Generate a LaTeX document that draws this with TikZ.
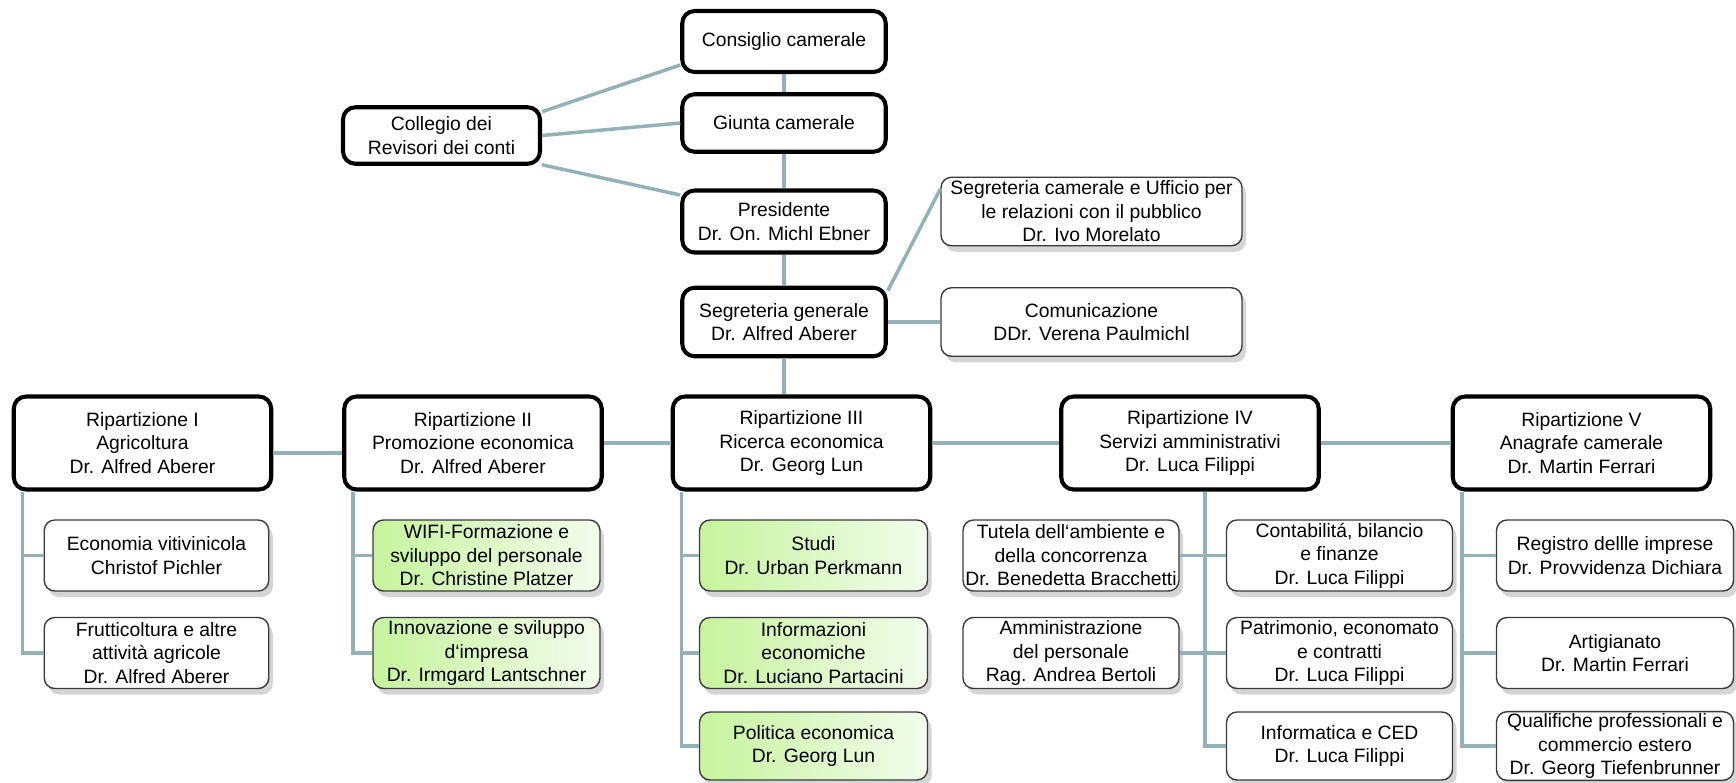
\documentclass[tikz,border=0pt]{standalone}
\usepackage{fontspec}
\setmainfont{Liberation Sans}
\usepackage{tikz}
\usetikzlibrary{positioning}
\usetikzlibrary{calc}
\usetikzlibrary{shadows}
\definecolor{linkcolor}{HTML}{93B2B7}
\definecolor{officeborder}{HTML}{3A3A3A}
\definecolor{greenleft}{RGB}{198,244,156}
\definecolor{greenright}{RGB}{242,252,236}
\colorlet{shadowcolor}{black!55}
\tikzstyle{headbox}=[black, align=center, draw=black, line width=2.3pt, rounded corners=7, fill=white, inner sep=1pt, font=\fontsize{11}{13.4}\selectfont]
\tikzstyle{officebox}=[black, align=center, draw=officeborder, line width=0.8pt, rounded corners=6, fill=white, inner sep=1pt, minimum height=14.2mm, font=\fontsize{11}{13.4}\selectfont, drop shadow={shadow xshift=0.8mm, shadow yshift=-1.2mm, opacity=0.3, fill=shadowcolor}]
\tikzstyle{greenbox}=[officebox, left color=greenleft, right color=greenright]
\tikzstyle{link}=[draw=linkcolor, line width=2pt]

\begin{document}
\begin{tikzpicture}
    \useasboundingbox (0, 0) rectangle (34.72, -15.64);

    % top of the chamber
    \node[headbox, minimum width=40.7mm, minimum height=12.2mm] at (15.68, -0.83) (consiglio) {Consiglio camerale};

    \node[headbox, minimum width=40.7mm, minimum height=11.5mm] at ($(consiglio) + (0, -1.63)$) (giunta) {Giunta camerale};

    \node[headbox, minimum width=40.7mm, minimum height=12.4mm] at ($(giunta) + (0, -1.97)$) (presidente) {Presidente\\Dr. On. Michl Ebner};

    \node[headbox, minimum width=40.7mm, minimum height=13.7mm] at ($(presidente) + (0, -2.01)$) (segGenerale) {Segreteria generale\\Dr. Alfred Aberer};

    \node[headbox, minimum width=39.4mm, minimum height=11.3mm] at ($(giunta) + (-6.85, -0.25)$) (collegio) {Collegio dei\\Revisori dei conti};

    \node[officebox, minimum width=60.2mm, minimum height=13.7mm] at ($(segGenerale) + (6.15, 2.21)$) (segCamerale) {Segreteria camerale e Ufficio per\\le relazioni con il pubblico\\Dr. Ivo Morelato};

    \node[officebox, minimum width=60.2mm, minimum height=13.7mm] at ($(segGenerale) + (6.15, 0)$) (comunicazione) {Comunicazione\\DDr. Verena Paulmichl};

    % Ripartizioni
    \node[headbox, minimum width=51.5mm, minimum height=18.6mm] at ($(segGenerale) + (0.35, -2.42)$) (ripIII) {Ripartizione III\\Ricerca economica\\Dr. Georg Lun};

    \node[headbox, minimum width=51.5mm, minimum height=18.6mm] at ($(ripIII) + (-13.18, 0)$) (ripI) {Ripartizione I\\Agricoltura\\Dr. Alfred Aberer};

    \node[headbox, minimum width=51.5mm, minimum height=18.6mm] at ($(ripIII) + (-6.57, 0)$) (ripII) {Ripartizione II\\Promozione economica\\Dr. Alfred Aberer};

    \node[headbox, minimum width=51.5mm, minimum height=18.6mm] at ($(ripIII) + (7.77, 0)$) (ripIV) {Ripartizione IV\\Servizi amministrativi\\Dr. Luca Filippi};

    \node[headbox, minimum width=51.5mm, minimum height=18.6mm] at ($(ripIII) + (15.6, 0)$) (ripV) {Ripartizione V\\Anagrafe camerale\\Dr. Martin Ferrari};

    % Uffici
    \node[officebox, minimum width=44.9mm] at ($(ripI) + (0.28, -2.25)$) (vitivinicola) {Economia vitivinicola\\Christof Pichler};
    \node[officebox, minimum width=44.9mm] at ($(ripI) + (0.28, -4.20)$) (frutticoltura) {Frutticoltura e altre\\attività agricole\\Dr. Alfred Aberer};

    \node[greenbox, minimum width=45.4mm] at ($(ripII) + (0.27, -2.25)$) (wifi) {WIFI-Formazione e\\sviluppo del personale\\Dr. Christine Platzer};
    \node[greenbox, minimum width=45.4mm] at ($(ripII) + (0.27, -4.20)$) (innovazione) {Innovazione e sviluppo\\d‘impresa\\Dr. Irmgard Lantschner};

    \node[greenbox, minimum width=45.6mm] at ($(ripIII) + (0.24, -2.25)$) (studi) {Studi\\Dr. Urban Perkmann};
    \node[greenbox, minimum width=45.6mm] at ($(ripIII) + (0.24, -4.20)$) (informazioni) {Informazioni\\economiche\\Dr. Luciano Partacini};
    \node[greenbox, minimum width=45.6mm, minimum height=13.6mm] at ($(ripIII) + (0.24, -6.06)$) (politica) {Politica economica\\Dr. Georg Lun};

    \node[officebox, minimum width=43.2mm] at ($(ripIV) + (-2.38, -2.25)$) (tutela) {Tutela dell‘ambiente e\\della concorrenza\\Dr. Benedetta Bracchetti};
    \node[officebox, minimum width=43.2mm] at ($(ripIV) + (-2.38, -4.20)$) (personale) {Amministrazione\\del personale\\Rag. Andrea Bertoli};
    \node[officebox, minimum width=45.2mm] at ($(ripIV) + (2.99, -2.25)$) (contabilita) {Contabilitá, bilancio\\e finanze\\Dr. Luca Filippi};
    \node[officebox, minimum width=45.2mm] at ($(ripIV) + (2.99, -4.20)$) (patrimonio) {Patrimonio, economato\\e contratti\\Dr. Luca Filippi};
    \node[officebox, minimum width=45.2mm, minimum height=13.6mm] at ($(ripIV) + (2.99, -6.06)$) (informatica) {Informatica e CED\\Dr. Luca Filippi};

    \node[officebox, minimum width=47.4mm] at ($(ripV) + (0.67, -2.25)$) (registro) {Registro dellle imprese\\Dr. Provvidenza Dichiara};
    \node[officebox, minimum width=47.4mm] at ($(ripV) + (0.67, -4.20)$) (artigianato) {Artigianato\\Dr. Martin Ferrari};
    \node[officebox, minimum width=47.4mm, minimum height=13.6mm] at ($(ripV) + (0.67, -6.06)$) (qualifiche) {Qualifiche professionali e\\commercio estero\\Dr. Georg Tiefenbrunner};

    % Links
    \draw[link] (consiglio.south) -- (giunta.north);
    \draw[link] (giunta.south) -- (presidente.north);
    \draw[link] (presidente.south) -- (segGenerale.north);
    \draw[link] (segGenerale.south) -- (segGenerale.south |- ripIII.north);

    \draw[link] ($(collegio.north east) + (0, -0.13)$) -- ($(consiglio.south west) + (0, 0.18)$);
    \draw[link] (collegio.east) -- (giunta.west);
    \draw[link] ($(collegio.south east) + (0, 0.02)$) -- ($(presidente.north west) + (0, -0.13)$);

    \draw[link] ($(segGenerale.north east) + (0, -0.1)$) -- ($(segCamerale.north west) + (0, -0.25)$);
    \draw[link] (segGenerale.east) -- (comunicazione.west);

    \draw[link] ($(ripI.east) + (0, -0.2)$) -- ($(ripII.west) + (0, -0.2)$);
    \draw[link] (ripII.east) -- (ripIII.west);
    \draw[link] (ripIII.east) -- (ripIV.west);
    \draw[link] (ripIV.east) -- (ripV.west);

    \coordinate (barI) at ($(ripI.south west) + (0.22, 0)$);
    \draw[link] (barI) |- (vitivinicola.west);
    \draw[link] (barI) |- (frutticoltura.west);

    \coordinate (barII) at ($(ripII.south west) + (0.22, 0)$);
    \draw[link] (barII) |- (wifi.west);
    \draw[link] (barII) |- (innovazione.west);

    \coordinate (barIII) at ($(ripIII.south west) + (0.22, 0)$);
    \draw[link] (barIII) |- (studi.west);
    \draw[link] (barIII) |- (informazioni.west);
    \draw[link] (barIII) |- (politica.west);

    \coordinate (barIV) at ($(ripIV.south) + (0.30, 0)$);
    \draw[link] (barIV) |- (tutela.east);
    \draw[link] (barIV) |- (personale.east);
    \draw[link] (barIV) |- (contabilita.west);
    \draw[link] (barIV) |- (patrimonio.west);
    \draw[link] (barIV) |- (informatica.west);

    \coordinate (barV) at ($(ripV.south west) + (0.22, 0)$);
    \draw[link] (barV) |- (registro.west);
    \draw[link] (barV) |- (artigianato.west);
    \draw[link] (barV) |- (qualifiche.west);

\end{tikzpicture}
\end{document}
